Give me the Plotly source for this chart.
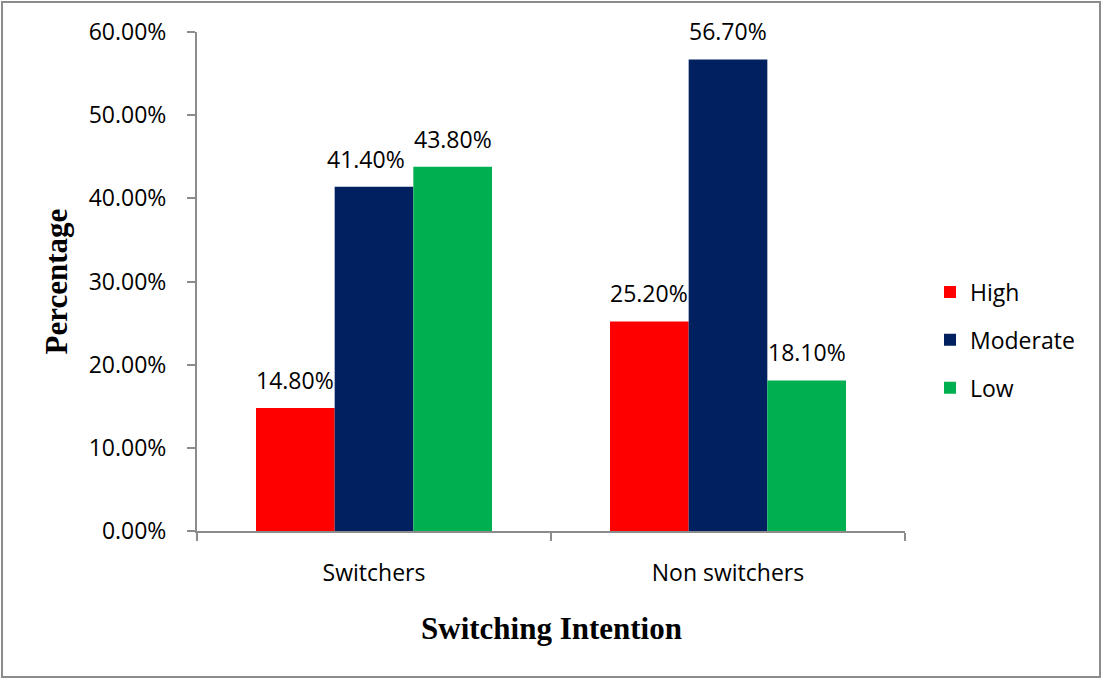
import plotly.graph_objects as go

# Data
categories = ["Switchers", "Non switchers"]
levels = ["High", "Moderate", "Low"]
high = [0.148, 0.252]
moderate = [0.414, 0.567]
low = [0.438, 0.181]
series = [high, moderate, low]
colors = ["#FF0000", "#002060", "#00B050"]

# Figure geometry
W, H = 1102, 679
ML, MR, MT, MB = 197, 197, 32, 148
PW, PH = W - ML - MR, H - MT - MB


def px_x(x):
    return (x - ML) / PW


def px_y(y):
    return (H - MB - y) / PH


fig = go.Figure()
for name, vals, col in zip(levels, series, colors):
    fig.add_trace(go.Bar(
        x=categories, y=vals, name=name, marker_color=col,
        marker_line_width=0, legendgroup=name,
    ))

# Value labels above each bar
bargap = 1 / 3
bar_w = (1 - bargap) / len(levels)
label_nudge = {(0, 1): -8}
annotations = []
for si, vals in enumerate(series):
    for ci, v in enumerate(vals):
        off = (si - (len(levels) - 1) / 2) * bar_w
        annotations.append(dict(
            x=ci + off, y=v, xref="x", yref="y",
            text=f"{v * 100:.2f}%", showarrow=False,
            yanchor="middle", yshift=28, xshift=label_nudge.get((ci, si), 0),
            font=dict(family="Open Sans", size=23, color="#000000"),
        ))

# Axis titles
annotations.append(dict(
    x=0.5, y=px_y(628), xref="paper", yref="paper", text="<b>Switching Intention</b>",
    showarrow=False, xanchor="center", yanchor="middle",
    font=dict(family="Liberation Serif", size=31, color="#000000"),
))
annotations.append(dict(
    x=px_x(56), y=0.5, xref="paper", yref="paper", text="<b>Percentage</b>",
    showarrow=False, xanchor="center", yanchor="middle", textangle=-90,
    font=dict(family="Liberation Serif", size=31, color="#000000"),
))

axis_col = "#8C8C8C"
fig.update_layout(
    width=W, height=H,
    margin=dict(l=ML, r=MR, t=MT, b=MB),
    paper_bgcolor="white", plot_bgcolor="white",
    barmode="group", bargap=bargap, bargroupgap=0,
    font=dict(family="Open Sans", size=23, color="#000000"),
    annotations=annotations,
    legend=dict(
        x=px_x(930), y=px_y(340), xanchor="left", yanchor="middle",
        font=dict(family="Open Sans", size=23, color="#000000"),
        tracegroupgap=15, traceorder="grouped", bgcolor="rgba(0,0,0,0)",
    ),
    shapes=[dict(
        type="rect", xref="paper", yref="paper",
        x0=px_x(2), x1=px_x(1100), y0=px_y(677), y1=px_y(2),
        line=dict(color="#8C8C8C", width=2), fillcolor="rgba(0,0,0,0)",
        layer="below",
    )],
)
fig.update_xaxes(
    type="category", showline=True, linecolor=axis_col, linewidth=2,
    ticks="outside", tickson="boundaries", ticklen=8, tickwidth=2, tickcolor=axis_col,
    ticklabelstandoff=20, showgrid=False, zeroline=False,
)
fig.update_yaxes(
    range=[0, 0.6], dtick=0.1, tickformat=".2%", showline=True,
    linecolor=axis_col, linewidth=2, ticks="outside", ticklen=8, tickwidth=2,
    tickcolor=axis_col, ticklabelstandoff=16, showgrid=False, zeroline=False,
)

fig.write_html("out.html")
